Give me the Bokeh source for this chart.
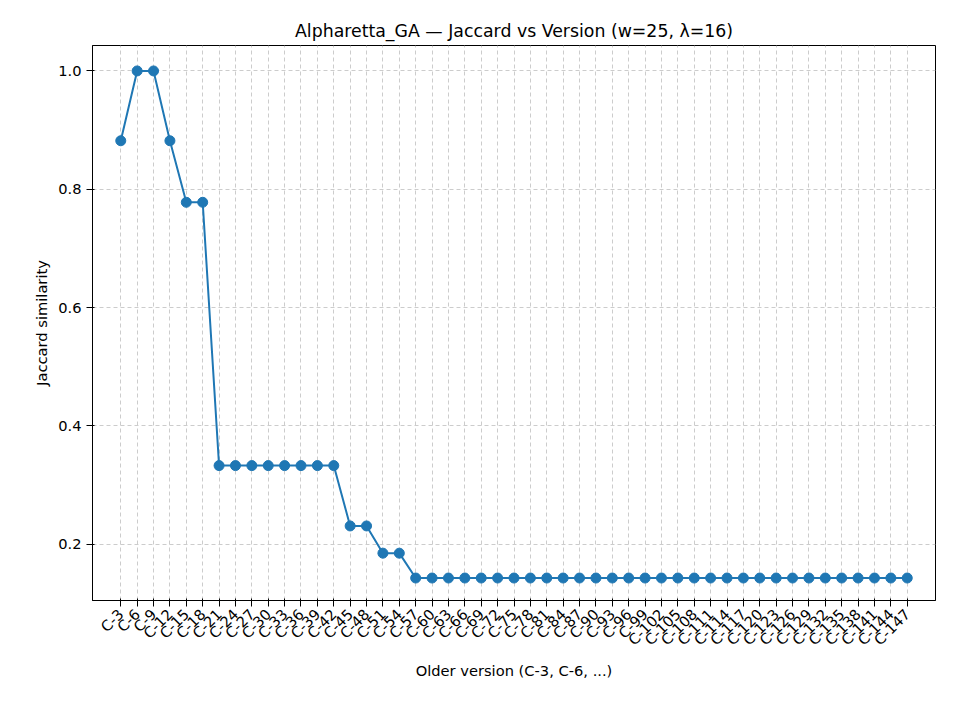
from math import pi
from bokeh.plotting import figure
from bokeh.models import Range1d, FactorRange, NumeralTickFormatter
from bokeh.embed import file_html
from bokeh.resources import INLINE

versions = ["C-%d" % k for k in range(3, 148, 3)]
jaccard = ([0.882, 1.0, 1.0, 0.882, 0.778, 0.778]
           + [0.333] * 8
           + [0.231, 0.231, 0.185, 0.185]
           + [0.143] * 31)

p = figure(width=940, height=700, x_range=FactorRange(*versions, range_padding=0.05),
           y_range=Range1d(0.105, 1.043),
           title="Alpharetta_GA — Jaccard vs Version (w=25, λ=16)",
           x_axis_label="Older version (C-3, C-6, ...)", y_axis_label="Jaccard similarity",
           output_backend="svg", toolbar_location=None,
           min_border_left=92, min_border_right=5, min_border_top=45, min_border_bottom=100)

p.line(versions, jaccard, line_color="#1f77b4", line_width=2)
p.scatter(versions, jaccard, size=10, color="#1f77b4")

p.title.align = "center"
p.title.text_font = "DejaVu Sans"
p.title.text_font_size = "13pt"
p.title.text_font_style = "normal"
p.title.text_color = "black"
p.xaxis.major_label_orientation = pi / 4
for ax in (p.xaxis, p.yaxis):
    ax.axis_label_text_font = "DejaVu Sans"
    ax.axis_label_text_font_style = "normal"
    ax.axis_label_text_font_size = "11pt"
    ax.axis_label_text_color = "black"
    ax.major_label_text_font = "DejaVu Sans"
    ax.major_label_text_font_size = "11pt"
    ax.major_label_text_color = "black"
    ax.minor_tick_line_color = None
    ax.axis_line_color = "black"
    ax.major_tick_line_color = "black"
p.yaxis.ticker = [0.2, 0.4, 0.6, 0.8, 1.0]
p.yaxis.formatter = NumeralTickFormatter(format="0.0")
p.xgrid.grid_line_dash = "4 3"
p.ygrid.grid_line_dash = "4 3"
p.xgrid.grid_line_color = "#cccccc"
p.ygrid.grid_line_color = "#cccccc"
p.outline_line_color = "black"

open("out.html", "w").write(file_html(p, INLINE))
